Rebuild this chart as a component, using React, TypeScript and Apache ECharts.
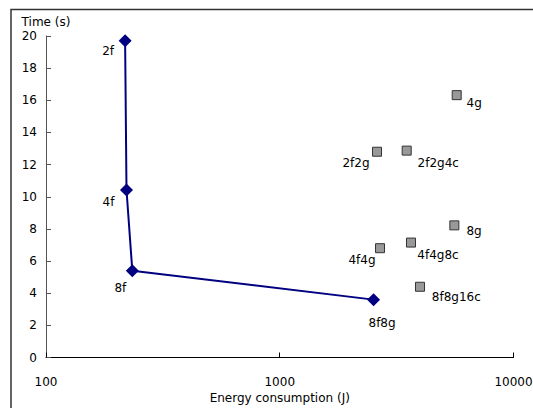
import React, { useEffect, useRef } from "react";
import * as echarts from "echarts";

// ---- data ----
const lineLabels = ["2f", "4f", "8f", "8f8g"];
const lineEnergy = [218, 221, 234, 2520];
const lineTime = [19.7, 10.42, 5.4, 3.6];

const gridLabels = ["4g", "2f2g", "2f2g4c", "8g", "4f4g", "4f4g8c", "8f8g16c"];
const gridEnergy = [5715, 2607, 3492, 5584, 2685, 3643, 3981];
const gridTime = [16.32, 12.8, 12.87, 8.22, 6.8, 7.15, 4.4];

const yTicks = [0, 20, 2]; // min, max, interval
const xRange = [100, 10000];

// ---- label placement (styling) ----
const lineLabelOffsets = [
  [-17, 10],
  [-18, 12],
  [-12, 17.5],
  [8.5, 23.5],
];
const gridLabelOffsets = [
  [17.5, 8],
  [-21, 11.6],
  [31.6, 12.6],
  [19.7, 5.4],
  [-18, 11.7],
  [27, 12.3],
  [36.3, 10],
];

const FONT = "DejaVu Sans";

export default function App() {
  const ref = useRef<HTMLDivElement>(null);
  useEffect(() => {
    if (!ref.current) return;
    const chart = echarts.init(ref.current, null, { renderer: "svg" });
    const seriesLabel = {
      show: true,
      position: ["50%", "50%"],
      align: "center",
      verticalAlign: "middle",
      formatter: "{b}",
      color: "#000000",
      textBorderWidth: 0,
      textBorderColor: "none",
      textShadowBlur: 0,
      fontFamily: FONT,
      fontSize: 12,
      fontWeight: "normal",
    };
    chart.setOption({
      animation: false,
      backgroundColor: "#fff",
      textStyle: { fontFamily: FONT },
      graphic: [
        {
          type: "rect",
          shape: { x: 11, y: 9.5, width: 600, height: 500 },
          style: { fill: "none", stroke: "#333", lineWidth: 1.5 },
          silent: true,
          z: -1,
        },
      ],
      grid: {
        left: 46,
        right: 19.5,
        top: 36,
        bottom: 50.5,
        containLabel: false,
        outerBoundsMode: "none",
      },
      xAxis: {
        type: "log",
        logBase: 10,
        min: xRange[0],
        max: xRange[1],
        name: "Energy consumption (J)",
        nameLocation: "middle",
        nameGap: 33,
        nameTextStyle: { color: "#000", fontFamily: FONT, fontSize: 12 },
        axisLine: { show: true, lineStyle: { color: "#000", width: 1 } },
        axisTick: { show: true, inside: true, length: 5, lineStyle: { color: "#000" } },
        minorTick: { show: false },
        axisLabel: {
          color: "#000",
          fontFamily: FONT,
          fontSize: 12,
          margin: 18,
          formatter: (v: number) => String(Math.round(v)),
        },
        splitLine: { show: false },
      },
      yAxis: {
        type: "value",
        min: yTicks[0],
        max: yTicks[1],
        interval: yTicks[2],
        name: "Time (s)",
        nameLocation: "end",
        nameGap: 8,
        nameTextStyle: { color: "#000", fontFamily: FONT, fontSize: 12 },
        axisLine: { show: true, lineStyle: { color: "#555", width: 1 } },
        axisTick: { show: true, inside: true, length: 5, lineStyle: { color: "#555" } },
        axisLabel: { color: "#000", fontFamily: FONT, fontSize: 12, margin: 9 },
        splitLine: { show: false },
      },
      series: [
        {
          type: "line",
          symbol: "diamond",
          symbolSize: 13,
          lineStyle: { color: "#000080", width: 2 },
          itemStyle: { color: "#000080", opacity: 1 },
          label: seriesLabel,
          emphasis: { disabled: true },
          data: lineEnergy.map((e, i) => ({
            value: [e, lineTime[i]],
            name: lineLabels[i],
            label: { offset: lineLabelOffsets[i] },
          })),
          z: 3,
        },
        {
          type: "scatter",
          symbol: "rect",
          symbolSize: 9,
          itemStyle: { color: "#999999", borderColor: "#333", borderWidth: 1, opacity: 1 },
          label: seriesLabel,
          emphasis: { disabled: true },
          data: gridEnergy.map((e, i) => ({
            value: [e, gridTime[i]],
            name: gridLabels[i],
            label: { offset: gridLabelOffsets[i] },
          })),
          z: 2,
        },
      ],
    });
    return () => chart.dispose();
  }, []);
  return (
    <div
      ref={ref}
      style={{ position: "fixed", left: 0, top: 0, width: 533, height: 408, overflow: "hidden" }}
    />
  );
}
